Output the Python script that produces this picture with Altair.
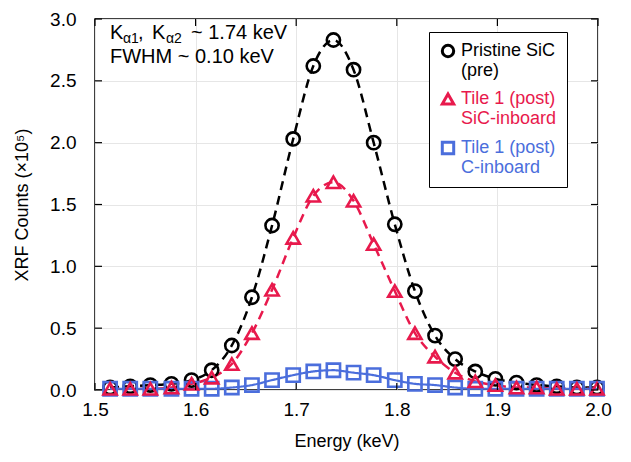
import altair as alt
import pandas as pd

# ---- data ----
energy = [1.515, 1.535, 1.555, 1.576, 1.596, 1.616, 1.636, 1.656, 1.676, 1.697,
          1.717, 1.737, 1.757, 1.777, 1.798, 1.818, 1.838, 1.858, 1.878, 1.898,
          1.919, 1.939, 1.959, 1.979, 1.999]
pristine = [0.02, 0.03, 0.04, 0.05, 0.08, 0.16, 0.36, 0.75, 1.33, 2.03,
            2.62, 2.83, 2.59, 2.00, 1.34, 0.80, 0.44, 0.25, 0.15, 0.09,
            0.06, 0.04, 0.03, 0.02, 0.02]
sic_inboard = [0.01, 0.01, 0.01, 0.02, 0.05, 0.10, 0.21, 0.46, 0.81, 1.23,
               1.57, 1.68, 1.53, 1.18, 0.80, 0.46, 0.27, 0.14, 0.07, 0.04,
               0.02, 0.02, 0.01, 0.01, 0.01]
c_inboard = [0.01, 0.01, 0.01, 0.01, 0.01, 0.01, 0.02, 0.04, 0.08, 0.12,
             0.15, 0.16, 0.14, 0.12, 0.08, 0.05, 0.04, 0.02, 0.01, 0.01,
             0.01, 0.01, 0.01, 0.01, 0.01]

series_names = ["Pristine SiC|(pre)", "Tile 1 (post)|SiC-inboard", "Tile 1 (post)|C-inboard"]
series_colors = ["#000000", "#E8194C", "#4B6EDC"]
series_shapes = ["circle", "triangle-up", "square"]

x_ticks = [1.5, 1.6, 1.7, 1.8, 1.9, 2.0]
y_ticks = [0.0, 0.5, 1.0, 1.5, 2.0, 2.5, 3.0]

rows = []
for name, vals in zip(series_names, [pristine, sic_inboard, c_inboard]):
    for e, v in zip(energy, vals):
        rows.append({"energy": e, "counts": v, "series": name})
df = pd.DataFrame(rows)
xt = pd.DataFrame({"t": x_ticks})
yt = pd.DataFrame({"t": y_ticks})

W, H = 503, 371
FONT = "Liberation Sans"

xs = alt.Scale(domain=[1.5, 2.0], nice=False, zero=False)
ys = alt.Scale(domain=[0, 3.0], nice=False)

X = alt.X("energy:Q", scale=xs,
          axis=alt.Axis(title="Energy (keV)", values=x_ticks, format=".1f",
                        ticks=False, domain=False, labelPadding=10, titlePadding=13,
                        labelFlush=False, gridColor="#e6e6e6"))
Y = alt.Y("counts:Q", scale=ys,
          axis=alt.Axis(title="XRF Counts (×10⁵)", values=y_ticks, format=".1f",
                        ticks=False, domain=False, labelPadding=19, titlePadding=18,
                        labelFlush=False, gridColor="#e6e6e6"))

base = alt.Chart(df)

lines = []
for name, col, dash, w in zip(series_names, series_colors,
                              [[9, 6], [9, 6], [1, 0]], [2.5, 2.5, 2.2]):
    lines.append(
        base.transform_filter(alt.datum.series == name)
        .mark_line(color=col, strokeDash=dash, strokeWidth=w, interpolate="monotone")
        .encode(x=X, y=Y)
    )

color_expr = ("datum.value == '%s' ? '%s' : (datum.value == '%s' ? '%s' : '%s')"
              % (series_names[0], series_colors[0], series_names[1], series_colors[1], series_colors[2]))

points = base.mark_point(filled=False, strokeWidth=2.6, size=175, opacity=1).encode(
    x=X, y=Y,
    color=alt.Color("series:N", sort=series_names,
                    scale=alt.Scale(domain=series_names, range=series_colors),
                    legend=alt.Legend(title=None, orient="none", legendX=334, legendY=13,
                                      labelExpr="split(datum.label, '|')",
                                      labelColor=alt.ExprRef(color_expr),
                                      labelFont=FONT, labelFontSize=18,
                                      strokeColor="black", fillColor="white",
                                      padding=10, rowPadding=8,
                                      symbolSize=130, symbolStrokeWidth=3,
                                      labelLimit=300)),
    shape=alt.Shape("series:N", sort=series_names,
                    scale=alt.Scale(domain=series_names, range=series_shapes)),
    order=alt.Order("series:N"),
)

tick_left = alt.Chart(yt).mark_rule(color="black", strokeWidth=1.2).encode(
    y=alt.Y("t:Q", scale=ys), x=alt.value(0), x2=alt.value(7))
tick_right = alt.Chart(yt).mark_rule(color="black", strokeWidth=1.2).encode(
    y=alt.Y("t:Q", scale=ys), x=alt.value(W - 7), x2=alt.value(W))
tick_top = alt.Chart(xt).mark_rule(color="black", strokeWidth=1.2).encode(
    x=alt.X("t:Q", scale=xs), y=alt.value(0), y2=alt.value(7))
tick_bot = alt.Chart(xt).mark_rule(color="black", strokeWidth=1.2).encode(
    x=alt.X("t:Q", scale=xs), y=alt.value(H - 7), y2=alt.value(H))

def txt(s, x, y, size=20):
    return alt.Chart(pd.DataFrame({"s": [s]})).mark_text(
        align="left", baseline="alphabetic", font=FONT, fontSize=size, color="black"
    ).encode(text="s:N", x=alt.value(x), y=alt.value(y))

annot = [
    txt("K", 15, 20),
    txt("α1", 28, 24, 14),
    txt(",", 43, 20),
    txt("K", 57, 20),
    txt("α2", 71, 24, 14),
    txt("~ 1.74 keV", 96, 20),
    txt("FWHM ~ 0.10 keV", 15, 44),
]

chart = alt.layer(
    *lines, points, tick_left, tick_right, tick_top, tick_bot, *annot
).properties(
    width=W, height=H,
    padding={"left": 87, "top": 11, "right": 20, "bottom": 64},
    autosize=alt.AutoSizeParams(type="none"),
).configure_view(stroke="black", strokeWidth=1.5).configure_axis(
    labelFont=FONT, titleFont=FONT, labelFontSize=19, titleFontSize=18,
    labelColor="black", titleColor="black", titleFontWeight="normal"
).resolve_scale(color="shared")

chart.save("out.html", embed_options={"renderer": "svg", "actions": False})
